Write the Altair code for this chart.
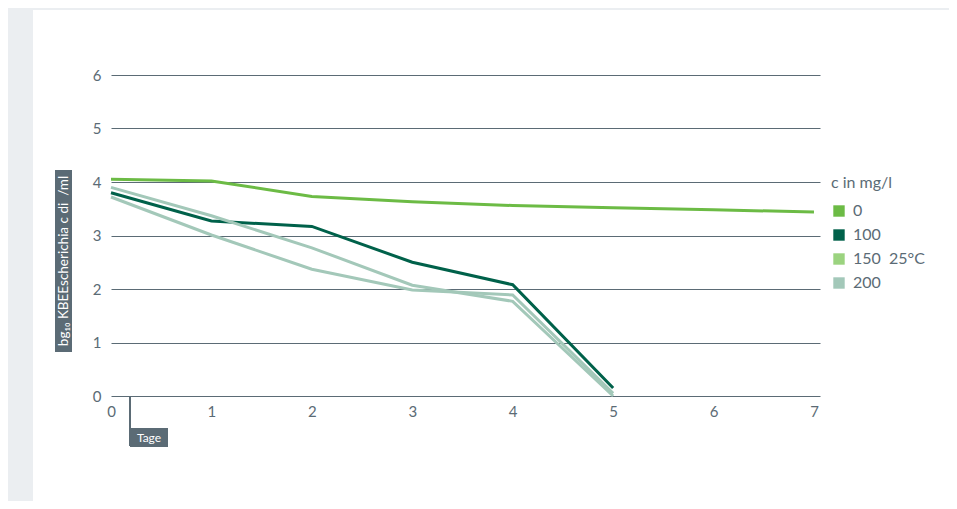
import altair as alt
import pandas as pd

days = [0, 1, 2, 3, 4, 5, 6, 7]
s0 = [4.05, 4.02, 3.73, 3.63, 3.56, 3.52, 3.48, 3.44]
days_short = [0, 1, 2, 3, 4, 5]
s100 = [3.80, 3.27, 3.17, 2.50, 2.08, 0.15]
s150 = [3.72, 3.01, 2.37, 1.98, 1.89, 0.05]
s200 = [3.90, 3.37, 2.77, 2.07, 1.77, 0.00]

series_keys = ["0", "100", "150", "200"]
legend_labels = ["0", "100", "150\u00a0\u00a025°C", "200"]
line_colors = ["#6cbb45", "#00614a", "#a3c8b9", "#a3c8b9"]
legend_colors = ["#6cbb45", "#00614a", "#9bd37f", "#a3c8b9"]
y_title = "bg₁₀ KBEEscherichia c di\u00a0\u00a0/ml"
x_title = "Tage"

rows = []
for d, v in zip(days, s0):
    rows.append({"day": d, "val": v, "series": "0"})
for key, vals in [("100", s100), ("150", s150), ("200", s200)]:
    for d, v in zip(days_short, vals):
        rows.append({"day": d, "val": v, "series": key})
df = pd.DataFrame(rows)
leg_df = pd.DataFrame({"label": legend_labels})

SLATE = "#5b6b75"
GRAYBG = "#ebeef1"
FONT = "Lato"

one = pd.DataFrame({"a": [0]})
left_strip = alt.Chart(one).mark_rect(color=GRAYBG).encode(
    x=alt.value(-110), x2=alt.value(-78), y=alt.value(-70), y2=alt.value(500)
)
top_strip = alt.Chart(one).mark_rect(color=GRAYBG).encode(
    x=alt.value(-110), x2=alt.value(900), y=alt.value(-70), y2=alt.value(-65)
)

lines = alt.Chart(df).mark_line(strokeWidth=3).encode(
    x=alt.X("day:Q", scale=alt.Scale(domain=[0, 7.06], nice=False),
            axis=alt.Axis(values=days, format="d", grid=False, domain=False, ticks=False,
                          labelFontSize=15, labelColor=SLATE, labelPadding=8, title=None,
                          labelFont=FONT, labelFlush=False)),
    y=alt.Y("val:Q", scale=alt.Scale(domain=[0, 6], nice=False),
            axis=alt.Axis(values=[0, 1, 2, 3, 4, 5, 6], format="d", grid=True, gridColor=SLATE,
                          gridWidth=1, domain=False, ticks=False, labelFontSize=15,
                          labelColor=SLATE, labelPadding=10, title=None, labelFont=FONT)),
    color=alt.Color("series:N", scale=alt.Scale(domain=series_keys, range=line_colors), legend=None),
    detail="series:N",
)

legend_layer = alt.Chart(leg_df).mark_square(opacity=0).encode(
    x=alt.value(0), y=alt.value(0),
    color=alt.Color("label:N", sort=legend_labels,
                    scale=alt.Scale(domain=legend_labels, range=legend_colors),
                    legend=alt.Legend(title="c in mg/l", orient="none", legendX=720, legendY=100,
                                      symbolType="square", symbolSize=130, symbolOpacity=1,
                                      symbolStrokeWidth=0, labelFontSize=16, titleFontSize=16,
                                      titleFontWeight="normal", labelColor=SLATE,
                                      titleColor=SLATE, rowPadding=8, titlePadding=12,
                                      labelFont=FONT, titleFont=FONT, labelOffset=6)),
)

ybox = alt.Chart(one).mark_rect(color=SLATE).encode(
    x=alt.value(-56), x2=alt.value(-39), y=alt.value(95), y2=alt.value(277)
)
ytext = alt.Chart(one).mark_text(angle=270, color="white", fontSize=13.5, font=FONT).encode(
    x=alt.value(-47), y=alt.value(186), text=alt.value(y_title)
)
tick = alt.Chart(one).mark_rule(color=SLATE, strokeWidth=2).encode(
    x=alt.value(19), y=alt.value(321), y2=alt.value(371)
)
xbox = alt.Chart(one).mark_rect(color=SLATE).encode(
    x=alt.value(19), x2=alt.value(57), y=alt.value(353), y2=alt.value(372)
)
xtext = alt.Chart(one).mark_text(color="white", fontSize=12, font=FONT).encode(
    x=alt.value(38), y=alt.value(363), text=alt.value(x_title)
)

chart = alt.layer(left_strip, top_strip, lines, legend_layer, ybox, ytext, tick, xbox, xtext).resolve_scale(
    color="independent"
).properties(
    width=709, height=321,
    autosize=alt.AutoSizeParams(type="none"),
    padding={"left": 103, "top": 67, "right": 129, "bottom": 105},
    background="white",
).configure(font=FONT).configure_view(strokeWidth=0, stroke="transparent")

chart.save("out.html", embed_options={"renderer": "svg", "actions": False})
